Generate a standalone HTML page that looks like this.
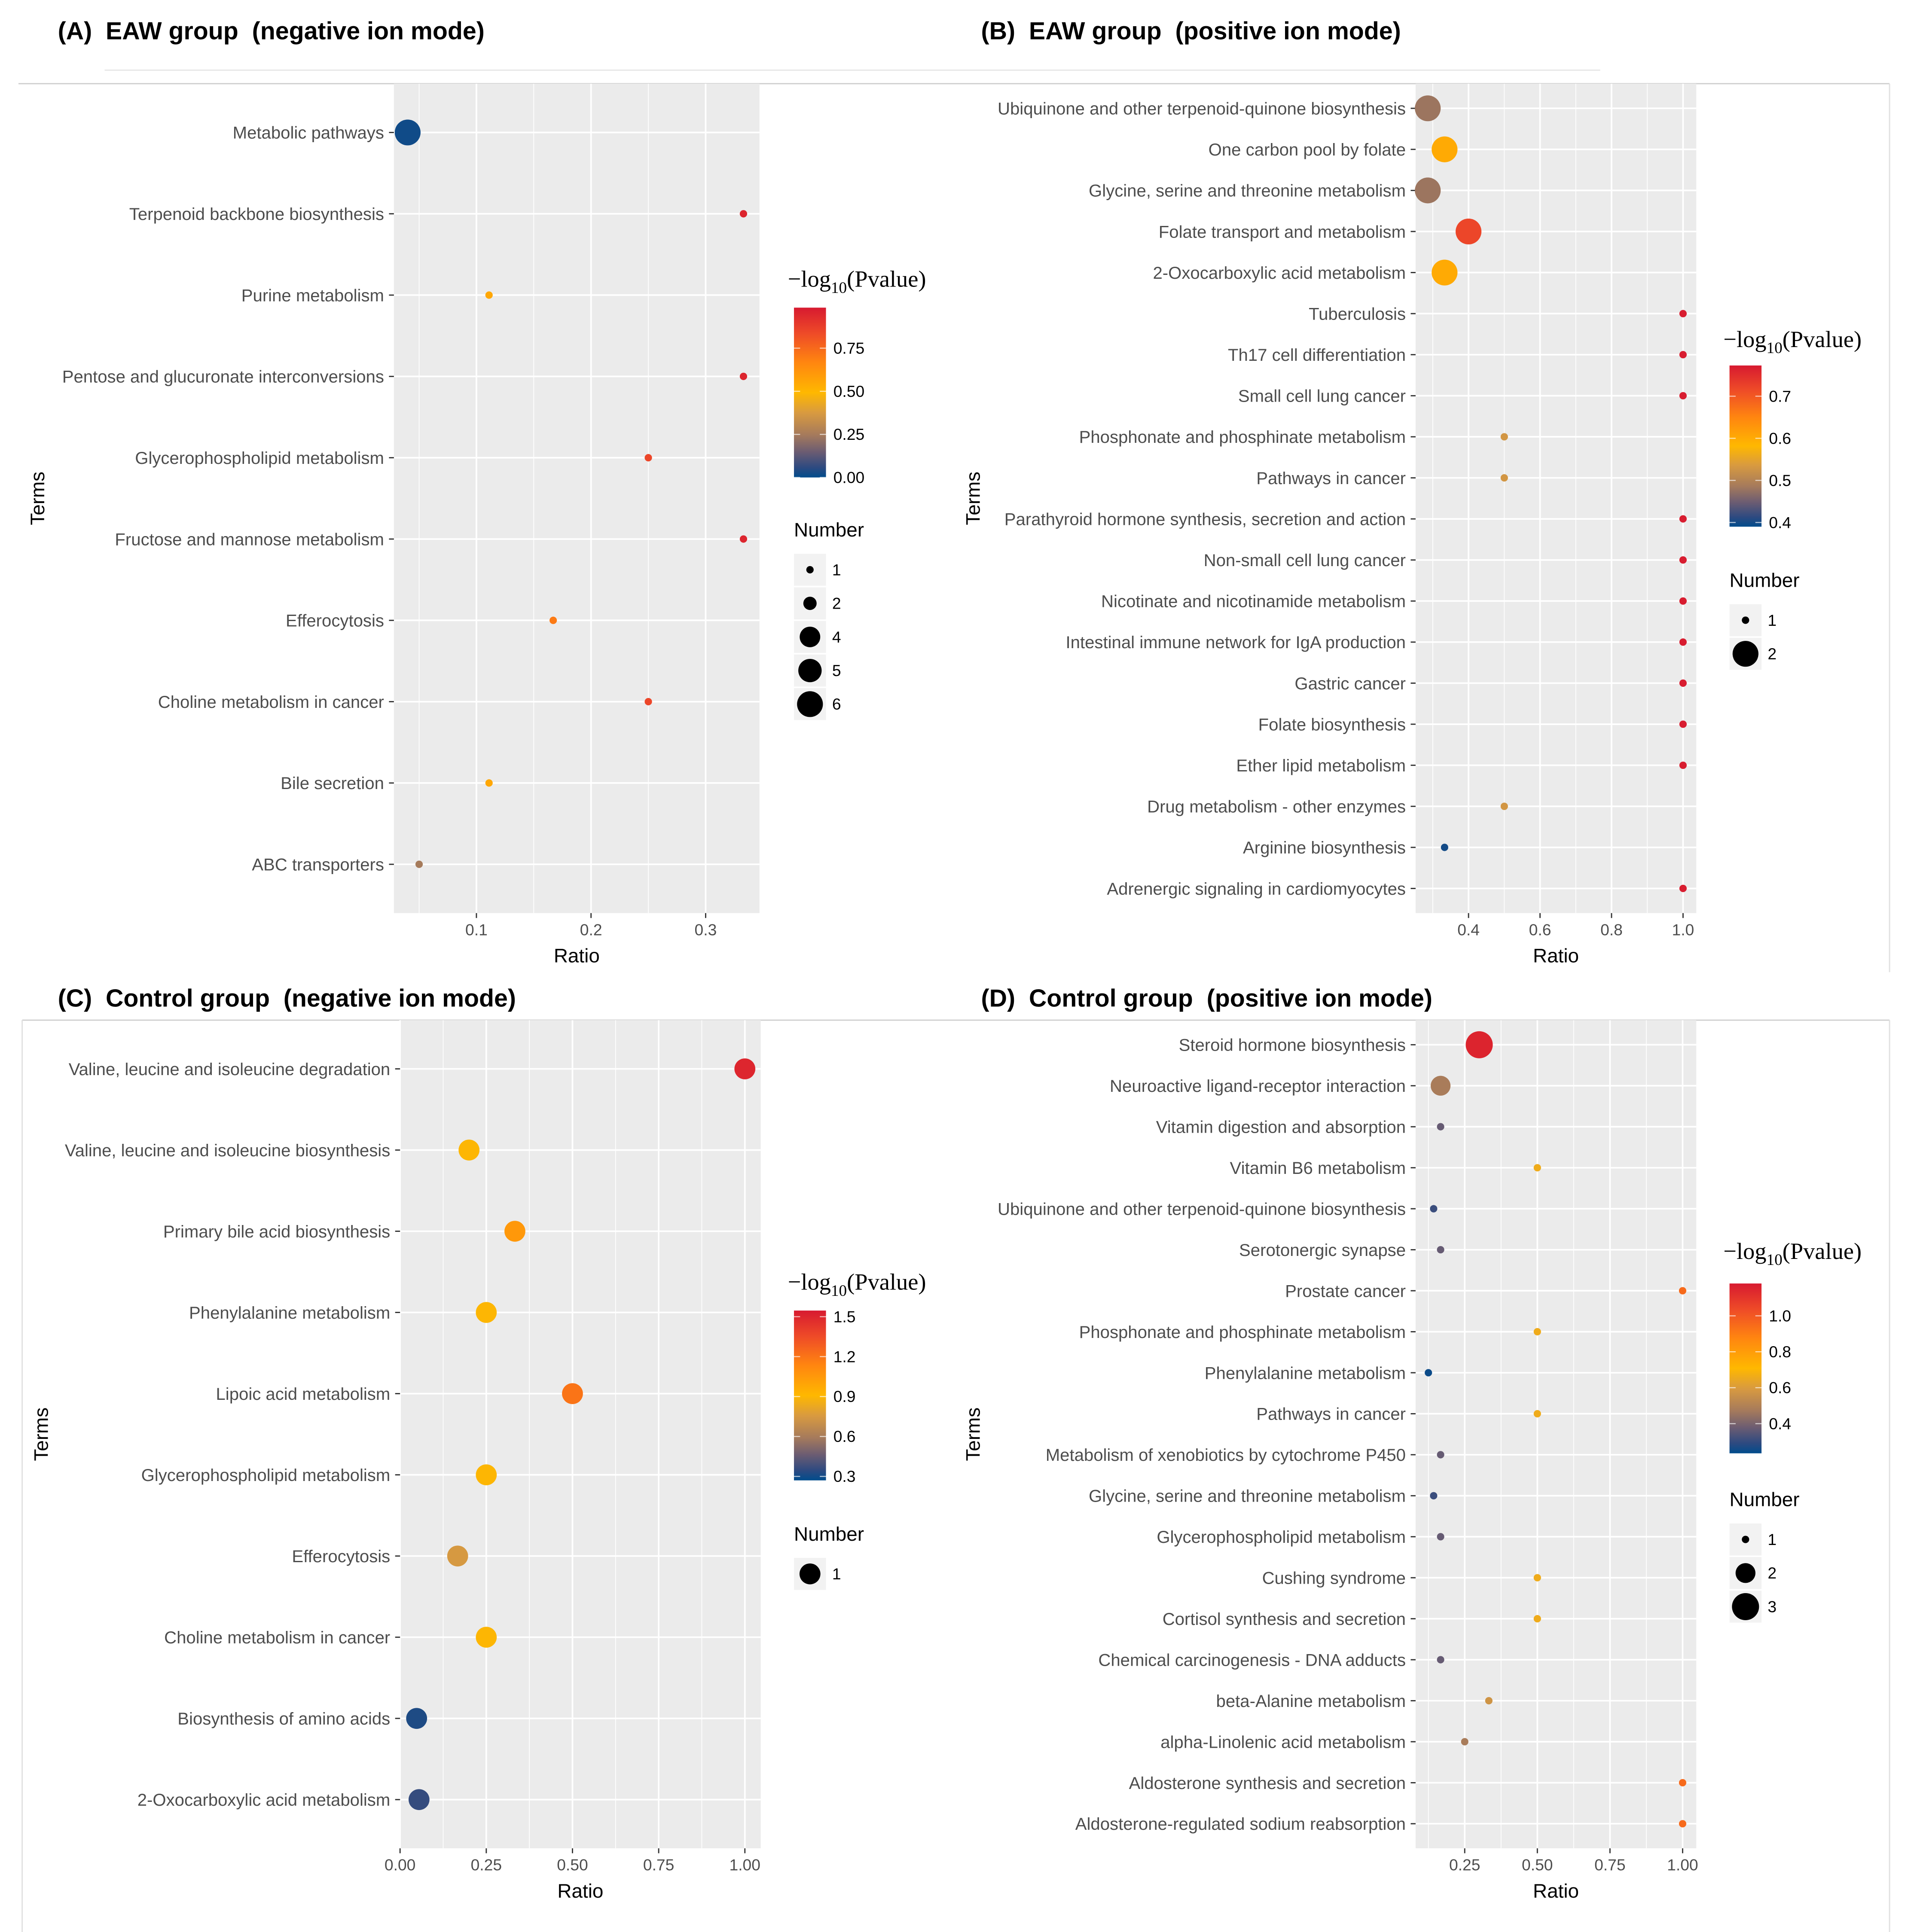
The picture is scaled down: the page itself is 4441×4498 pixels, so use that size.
<!DOCTYPE html>
<html><head><meta charset="utf-8"><style>
html,body{margin:0;padding:0;background:#fff;}
svg{display:block;}
text{font-family:"Liberation Sans",Arial,sans-serif;}
</style></head><body>
<svg id="fig" width="4441" height="4498" viewBox="0 0 1550 1570" preserveAspectRatio="none" xmlns="http://www.w3.org/2000/svg">
<rect width="1550" height="1570" fill="#fff"/>
<line x1="85" y1="57" x2="1300" y2="57" stroke="#e6e6e6" stroke-width="1"/>
<line x1="15" y1="68" x2="1535" y2="68" stroke="#cfcfcf" stroke-width="1"/>
<line x1="1535" y1="68" x2="1535" y2="790" stroke="#e0e0e0" stroke-width="1"/>
<line x1="18" y1="829" x2="1535" y2="829" stroke="#cfcfcf" stroke-width="1"/>
<line x1="18" y1="829" x2="18" y2="1570" stroke="#e0e0e0" stroke-width="1"/>
<line x1="1535" y1="829" x2="1535" y2="1570" stroke="#e0e0e0" stroke-width="1"/>
<defs>
<linearGradient id="cmap" x1="0" y1="1" x2="0" y2="0">
<stop offset="0" stop-color="#004C8C"/><stop offset="0.06" stop-color="#2E4A80"/>
<stop offset="0.15" stop-color="#6B5C72"/><stop offset="0.25" stop-color="#A57A5C"/>
<stop offset="0.38" stop-color="#D89A40"/><stop offset="0.5" stop-color="#FFB800"/>
<stop offset="0.68" stop-color="#FF8510"/><stop offset="0.85" stop-color="#EE4A28"/>
<stop offset="1" stop-color="#D71A30"/>
</linearGradient>
</defs>
</svg>
<script>
// ---- Panel A data ----
const termsA = ["Metabolic pathways","Terpenoid backbone biosynthesis","Purine metabolism","Pentose and glucuronate interconversions","Glycerophospholipid metabolism","Fructose and mannose metabolism","Efferocytosis","Choline metabolism in cancer","Bile secretion","ABC transporters"];
const ratioA = [0.04,0.333,0.111,0.333,0.25,0.333,0.167,0.25,0.111,0.05];
const pvalA = [0.02,0.95,0.55,0.95,0.85,0.95,0.7,0.85,0.55,0.25];
const numA = [6,1,1,1,1,1,1,1,1,1];
const xTicksA = [0.1,0.2,0.3];
const xTickLabelsA = ["0.1","0.2","0.3"];
const cTicksA = [0,0.25,0.5,0.75];
const cTickLabelsA = ["0.00","0.25","0.50","0.75"];
const sizeKeysA = [1,2,4,5,6];
// ---- Panel B data ----
const termsB = ["Ubiquinone and other terpenoid-quinone biosynthesis","One carbon pool by folate","Glycine, serine and threonine metabolism","Folate transport and metabolism","2-Oxocarboxylic acid metabolism","Tuberculosis","Th17 cell differentiation","Small cell lung cancer","Phosphonate and phosphinate metabolism","Pathways in cancer","Parathyroid hormone synthesis, secretion and action","Non-small cell lung cancer","Nicotinate and nicotinamide metabolism","Intestinal immune network for IgA production","Gastric cancer","Folate biosynthesis","Ether lipid metabolism","Drug metabolism - other enzymes","Arginine biosynthesis","Adrenergic signaling in cardiomyocytes"];
const ratioB = [0.286,0.333,0.286,0.4,0.333,1,1,1,0.5,0.5,1,1,1,1,1,1,1,0.5,0.333,1];
const pvalB = [0.48,0.6,0.48,0.72,0.6,0.77,0.77,0.77,0.53,0.53,0.77,0.77,0.77,0.77,0.77,0.77,0.77,0.53,0.4,0.77];
const numB = [2,2,2,2,2,1,1,1,1,1,1,1,1,1,1,1,1,1,1,1];
const xTicksB = [0.4,0.6,0.8,1.0];
const xTickLabelsB = ["0.4","0.6","0.8","1.0"];
const cTicksB = [0.4,0.5,0.6,0.7];
const cTickLabelsB = ["0.4","0.5","0.6","0.7"];
const sizeKeysB = [1,2];
// ---- Panel C data ----
const termsC = ["Valine, leucine and isoleucine degradation","Valine, leucine and isoleucine biosynthesis","Primary bile acid biosynthesis","Phenylalanine metabolism","Lipoic acid metabolism","Glycerophospholipid metabolism","Efferocytosis","Choline metabolism in cancer","Biosynthesis of amino acids","2-Oxocarboxylic acid metabolism"];
const ratioC = [1.0,0.2,0.333,0.25,0.5,0.25,0.167,0.25,0.048,0.055];
const pvalC = [1.5,0.9,1.05,0.9,1.2,0.9,0.75,0.9,0.32,0.36];
const numC = [1,1,1,1,1,1,1,1,1,1];
const xTicksC = [0,0.25,0.5,0.75,1.0];
const xTickLabelsC = ["0.00","0.25","0.50","0.75","1.00"];
const cTicksC = [0.3,0.6,0.9,1.2,1.5];
const cTickLabelsC = ["0.3","0.6","0.9","1.2","1.5"];
const sizeKeysC = [1];
// ---- Panel D data ----
const termsD = ["Steroid hormone biosynthesis","Neuroactive ligand-receptor interaction","Vitamin digestion and absorption","Vitamin B6 metabolism","Ubiquinone and other terpenoid-quinone biosynthesis","Serotonergic synapse","Prostate cancer","Phosphonate and phosphinate metabolism","Phenylalanine metabolism","Pathways in cancer","Metabolism of xenobiotics by cytochrome P450","Glycine, serine and threonine metabolism","Glycerophospholipid metabolism","Cushing syndrome","Cortisol synthesis and secretion","Chemical carcinogenesis - DNA adducts","beta-Alanine metabolism","alpha-Linolenic acid metabolism","Aldosterone synthesis and secretion","Aldosterone-regulated sodium reabsorption"];
const ratioD = [0.3,0.167,0.167,0.5,0.143,0.167,1,0.5,0.125,0.5,0.167,0.143,0.167,0.5,0.5,0.167,0.333,0.25,1,1];
const pvalD = [1.15,0.48,0.37,0.66,0.31,0.37,0.95,0.66,0.25,0.66,0.37,0.31,0.37,0.66,0.66,0.37,0.57,0.48,0.95,0.95];
const numD = [3,2,1,1,1,1,1,1,1,1,1,1,1,1,1,1,1,1,1,1];
const xTicksD = [0.25,0.5,0.75,1.0];
const xTickLabelsD = ["0.25","0.50","0.75","1.00"];
const cTicksD = [0.4,0.6,0.8,1.0];
const cTickLabelsD = ["0.4","0.6","0.8","1.0"];
const sizeKeysD = [1,2,3];

const NS = "http://www.w3.org/2000/svg";
const svg = document.getElementById('fig');
function mk(tag, attrs, parent){ const e=document.createElementNS(NS,tag); for(const k in attrs) e.setAttribute(k,attrs[k]); (parent||svg).appendChild(e); return e; }
const stops=[[0,[0,76,140]],[0.06,[46,74,128]],[0.15,[107,92,114]],[0.25,[165,122,92]],[0.38,[216,154,64]],[0.5,[255,184,0]],[0.68,[255,133,16]],[0.85,[238,74,40]],[1,[215,26,48]]];
function cmap(t){ t=Math.max(0,Math.min(1,t)); for(let i=1;i<stops.length;i++){ if(t<=stops[i][0]){ const a=stops[i-1],b=stops[i]; const f=(t-a[0])/(b[0]-a[0]); const c=a[1].map((v,j)=>Math.round(v+(b[1][j]-v)*f)); return `rgb(${c[0]},${c[1]},${c[2]})`; } } return 'rgb(215,26,48)'; }

function panel(cfg){
  const g = mk('g',{});
  
  
  const t = mk('text',{x:cfg.titleX,y:cfg.titleY,'font-size':20,'font-weight':'bold',fill:'#000',style:'white-space:pre'},g);
  t.textContent = cfg.title;
  
  
  const [x0,x1,y0,y1]=cfg.plot;
  const bg=mk('rect',{x:x0,y:y0,width:x1-x0,height:y1-y0,fill:'#EBEBEB'},g);
  
  
  const xs = v => x0 + (v-cfg.dom[0])/(cfg.dom[1]-cfg.dom[0])*(x1-x0);
  const n=cfg.terms.length; const step=(y1-y0)/(n-1+1.2); const ys=i=>y0+step*(0.6+i);
  const tk=cfg.xt; const d=tk[1]-tk[0];
  for(let v=tk[0]-d/2; v<=cfg.dom[1]; v+=d){ if(v>=cfg.dom[0]) mk('line',{x1:xs(v),x2:xs(v),y1:y0,y2:y1,stroke:'#fff','stroke-width':0.6},g); }
  tk.forEach((v,i)=>{
    mk('line',{x1:xs(v),x2:xs(v),y1:y0,y2:y1,stroke:'#fff','stroke-width':1.3},g);
    mk('line',{x1:xs(v),x2:xs(v),y1:y1,y2:y1+4,stroke:'#333','stroke-width':1},g);
    const l=mk('text',{x:xs(v),y:y1+18,'font-size':13,fill:'#4d4d4d','text-anchor':'middle'},g);
    l.textContent=cfg.xtl[i];
    
    
  });
  cfg.terms.forEach((s,i)=>{
    mk('line',{x1:x0,x2:x1,y1:ys(i),y2:ys(i),stroke:'#fff','stroke-width':1.3},g);
    mk('line',{x1:x0-4,x2:x0,y1:ys(i),y2:ys(i),stroke:'#333','stroke-width':1},g);
    const l=mk('text',{x:x0-8,y:ys(i)+5,'font-size':14,fill:'#4d4d4d','text-anchor':'end'},g);
    l.textContent=s;
    
    
  });
  const nmin=Math.min(...cfg.sizeKeys), nmax=Math.max(...cfg.sizeKeys);
  const rad = k => nmin===nmax ? 8.5 : Math.sqrt(9+(k-nmin)/(nmax-nmin)*(cfg.rmax*cfg.rmax-9));
  const cnorm = p => (p-cfg.cdom[0])/(cfg.cdom[1]-cfg.cdom[0]);
  cfg.terms.forEach((s,i)=>{
    const c=mk('circle',{cx:xs(cfg.ratio[i]),cy:ys(i),r:rad(cfg.num[i]),fill:cmap(cnorm(cfg.pval[i]))},g);
    
    
  });
  const yt=mk('text',{x:0,y:0,'font-size':16,fill:'#000','text-anchor':'middle',transform:`translate(${cfg.termsX},${(y0+y1)/2}) rotate(-90)`},g);
  yt.textContent='Terms';
  
  
  const xtt=mk('text',{x:(x0+x1)/2,y:y1+40,'font-size':16,fill:'#000','text-anchor':'middle'},g);
  xtt.textContent='Ratio';
  
  
  const L=cfg.leg;
  const lt=mk('text',{x:L.x-5,y:L.ty,'font-size':19,fill:'#000',style:'font-family:"Liberation Serif",serif'},g);
  
  
  const t1=mk('tspan',{},lt); t1.textContent='\u2212log';
  const t2=mk('tspan',{dy:5,'font-size':13},lt); t2.textContent='10';
  const t3=mk('tspan',{dy:-5},lt); t3.textContent='(Pvalue)';
  const cb=mk('rect',{x:L.x,y:L.cb0,width:26,height:L.cb1-L.cb0,fill:'url(#cmap)'},g);
  
  
  const cy = p => L.cb1 - cnorm(p)*(L.cb1-L.cb0);
  cfg.ct.forEach((p,i)=>{
    mk('line',{x1:L.x,x2:L.x+5,y1:cy(p),y2:cy(p),stroke:'#fff','stroke-width':0.8,opacity:0.7},g);
    mk('line',{x1:L.x+21,x2:L.x+26,y1:cy(p),y2:cy(p),stroke:'#fff','stroke-width':0.8,opacity:0.7},g);
    const l=mk('text',{x:L.x+32,y:cy(p)+4.5,'font-size':13,fill:'#000'},g);
    l.textContent=cfg.ctl[i];
    
    
  });
  const nt=mk('text',{x:L.x,y:L.ny,'font-size':16,fill:'#000'},g);
  nt.textContent='Number';
  
  
  cfg.sizeKeys.forEach((k,i)=>{
    const ky=L.ny+27+i*27.3;
    mk('rect',{x:L.x,y:ky-13,width:26,height:26,fill:'#F2F2F2'},g);
    const c=mk('circle',{cx:L.x+13,cy:ky,r:rad(k),fill:'#000'},g);
    
    
    const l=mk('text',{x:L.x+31,y:ky+4.5,'font-size':13,fill:'#000'},g);
    l.textContent=String(k);
    
    
  });
}
panel({id:'a',title:'(A)  EAW group  (negative ion mode)',titleX:47,titleY:32,plot:[320,617,68,742],dom:[0.028,0.347],
  terms:termsA,ratio:ratioA,pval:pvalA,num:numA,xt:xTicksA,xtl:xTickLabelsA,ct:cTicksA,ctl:cTickLabelsA,sizeKeys:sizeKeysA,rmax:10.5,
  cdom:[0,0.985],termsX:36,leg:{x:645,ty:233,cb0:250,cb1:388,ny:436}});
panel({id:'b',title:'(B)  EAW group  (positive ion mode)',titleX:797,titleY:32,plot:[1150,1378,68,742],dom:[0.252,1.037],
  terms:termsB,ratio:ratioB,pval:pvalB,num:numB,xt:xTicksB,xtl:xTickLabelsB,ct:cTicksB,ctl:cTickLabelsB,sizeKeys:sizeKeysB,rmax:10.5,
  cdom:[0.39,0.773],termsX:796,leg:{x:1405,ty:282,cb0:297,cb1:428,ny:477}});
panel({id:'c',title:'(C)  Control group  (negative ion mode)',titleX:47,titleY:818,plot:[325,618,829,1502],dom:[0,1.046],
  terms:termsC,ratio:ratioC,pval:pvalC,num:numC,xt:xTicksC,xtl:xTickLabelsC,ct:cTicksC,ctl:cTickLabelsC,sizeKeys:sizeKeysC,rmax:8.5,
  cdom:[0.27,1.546],termsX:39,leg:{x:645,ty:1048,cb0:1065,cb1:1203,ny:1252}});
panel({id:'d',title:'(D)  Control group  (positive ion mode)',titleX:797,titleY:818,plot:[1150,1378,829,1502],dom:[0.081,1.047],
  terms:termsD,ratio:ratioD,pval:pvalD,num:numD,xt:xTicksD,xtl:xTickLabelsD,ct:cTicksD,ctl:cTickLabelsD,sizeKeys:sizeKeysD,rmax:11,
  cdom:[0.235,1.18],termsX:796,leg:{x:1405,ty:1023,cb0:1043,cb1:1181,ny:1224}});
</script>
</body></html>
